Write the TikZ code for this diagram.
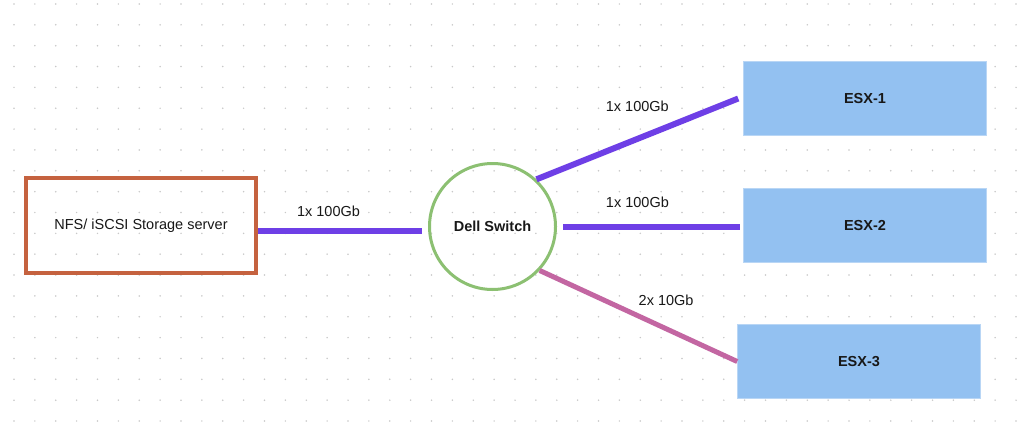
\documentclass[tikz,border=0pt]{standalone}
\usepackage{fontspec}
\setmainfont{Liberation Sans}
\definecolor{dotc}{HTML}{C8C8C8}
\definecolor{linkpurple}{HTML}{6E3FE6}
\definecolor{linkpink}{HTML}{C366A2}
\definecolor{switchgreen}{HTML}{8CC072}
\definecolor{storagered}{HTML}{C5623F}
\definecolor{esxblue}{HTML}{93C1F1}
\definecolor{esxedge}{HTML}{B9D6F5}
\definecolor{txt}{HTML}{181818}
\tikzset{
  basefont/.style={font=\fontsize{14.5}{17}\selectfont, text=txt},
  storagebox/.style={basefont, draw=storagered, line width=4pt, minimum width=230pt, minimum height=95pt, inner sep=0pt},
  switchnode/.style={basefont, font=\fontsize{14.5}{17}\selectfont\bfseries, circle, draw=switchgreen, line width=3pt, minimum size=126pt, inner sep=0pt},
  esxbox/.style={basefont, font=\fontsize{14.5}{17}\selectfont\bfseries, fill=esxblue, draw=esxedge, line width=0.6pt, minimum width=243pt, minimum height=74pt, inner sep=0pt},
  link/.style={draw=linkpurple, line width=6pt},
  pinklink/.style={draw=linkpink, line width=5pt},
  linklabel/.style={basefont, inner sep=0pt}
}
\begin{document}
\begin{tikzpicture}[x=1pt,y=-1pt]
\useasboundingbox (0,0) rectangle (1024,441);
\fill[white] (0,0) rectangle (1024,441);
\foreach \i in {0,...,48}{
  \foreach \j in {0,...,20}{
    \fill[dotc] (14+\i*20.875, 4+\j*20.85) circle (0.85);
  }
}
\node[storagebox] (storage) at (141,225.5) {NFS/ iSCSI Storage server};
\node[switchnode] (switch) at (492.5,226.5) {Dell Switch};
\node[esxbox] (esx1) at (865,98.5) {ESX-1};
\node[esxbox] (esx2) at (865,225.5) {ESX-2};
\node[esxbox] (esx3) at (859,361.5) {ESX-3};

\draw[link] ([yshift=-5.5pt]storage.east) -- node[linklabel, pos=0.43, yshift=20pt] (l0) {1x 100Gb} ([xshift=-6pt, yshift=-4.5pt]switch.west);
\draw[link] (switch.47) -- node[linklabel, pos=0.5, yshift=33pt] (l1) {1x 100Gb} ([xshift=-5pt]esx1.west);
\draw[link] ([xshift=6pt]switch.east) -- node[linklabel, pos=0.42, yshift=24pt] (l2) {1x 100Gb} ([xshift=-3pt, yshift=-1pt]esx2.west);
\draw[pinklink] (switch.-43) -- node[linklabel, pos=0.64, yshift=28pt] (l3) {2x 10Gb} (esx3.west);
\end{tikzpicture}
\end{document}
